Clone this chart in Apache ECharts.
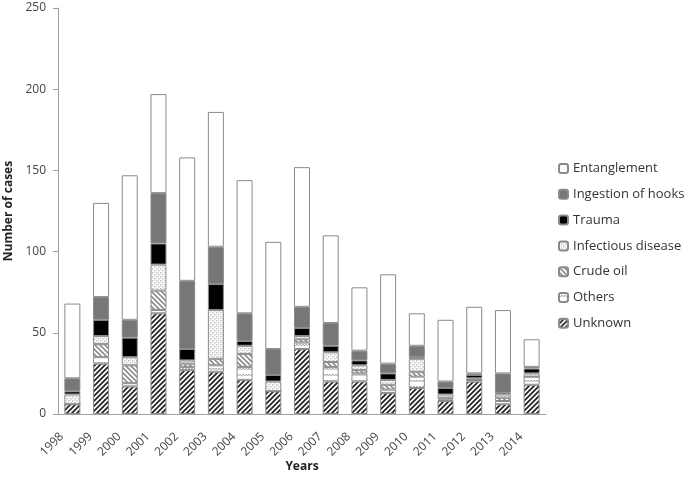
<!DOCTYPE html>
<html><head><meta charset="utf-8">
<script src="https://cdn.jsdelivr.net/npm/echarts@6/dist/echarts.min.js"></script>
<style>html,body{margin:0;padding:0;background:#fff}#c{width:697px;height:487px}</style>
</head><body><div id="c"></div>
<script>
const years = ['1998','1999','2000','2001','2002','2003','2004','2005','2006','2007','2008','2009','2010','2011','2012','2013','2014'];
const unknown      = [6,31,17,62,27,26,21,14,40,20,20,13,16,8,20,6,18];
const others       = [0,4,2,2,2,4,8,0,4,9,5,2,7,1,1,2,5];
const crudeOil     = [0,8,11,12,2,4,8,0,2,3,2,3,3,1,0,2,0];
const infectious   = [6,5,5,16,2,30,5,6,2,6,3,3,8,2,1,2,2];
const trauma       = [2,10,12,13,7,16,3,4,5,4,3,4,1,4,2,1,3];
const hooks        = [8,14,11,31,42,23,17,16,13,14,6,6,7,4,1,12,1];
const entanglement = [46,58,89,61,76,83,82,66,86,54,39,55,20,38,41,39,17];
const yMin = 0, yMax = 250, yStep = 50;

function tile(s, draw) {
  const c = document.createElement('canvas');
  c.width = s; c.height = s;
  const g = c.getContext('2d');
  g.fillStyle = '#fff'; g.fillRect(0, 0, s, s);
  draw(g, s);
  return { image: c, repeat: 'repeat' };
}
function diag(dir, color, w) {
  return tile(5, (g, s) => {
    g.strokeStyle = color; g.lineWidth = w;
    g.beginPath();
    if (dir > 0) {
      g.moveTo(-1, s + 1); g.lineTo(s + 1, -1);
      g.moveTo(-1, 1); g.lineTo(1, -1);
      g.moveTo(s - 1, s + 1); g.lineTo(s + 1, s - 1);
    } else {
      g.moveTo(-1, -1); g.lineTo(s + 1, s + 1);
      g.moveTo(s - 1, -1); g.lineTo(s + 1, 1);
      g.moveTo(-1, s - 1); g.lineTo(1, s + 1);
    }
    g.stroke();
  });
}
const pUnknown = diag(1, '#262626', 1.8);
const pCrude = diag(-1, '#8c8c8c', 1.6);
const pInfect = tile(4, (g, s) => {
  g.fillStyle = '#c4c4c4';
  g.fillRect(0, 0, 1.5, 1.5); g.fillRect(2, 2, 1.5, 1.5);
  g.fillStyle = '#e2e2e2';
  g.fillRect(2, 0, 1, 1); g.fillRect(0, 2, 1, 1);
});
const pOthers = tile(6, (g, s) => {
  g.strokeStyle = '#a8a8a8'; g.lineWidth = 1;
  g.beginPath();
  g.moveTo(0, 2); g.lineTo(1.5, 4); g.lineTo(3, 2); g.lineTo(4.5, 4); g.lineTo(6, 2);
  g.stroke();
});

const font = 'Open Sans';
const border = { borderColor: '#8a8a8a', borderWidth: 1 };
function mk(name, data, color) {
  return { name, type: 'bar', stack: 'total', data, barWidth: 16,
    itemStyle: Object.assign({ color }, border) };
}
const chart = echarts.init(document.getElementById('c'), null, { renderer: 'canvas' });
chart.setOption({
  animation: false,
  backgroundColor: '#fff',
  textStyle: { fontFamily: font },
  grid: { left: 58, right: 151, top: 8, bottom: 73, containLabel: false, outerBoundsMode: 'none' },
  legend: {
    orient: 'vertical', left: 553, top: 157,
    itemWidth: 9, itemHeight: 9, itemGap: 12.8,
    textStyle: { fontFamily: font, fontSize: 13, color: '#333' },
    data: ['Entanglement','Ingestion of hooks','Trauma','Infectious disease','Crude oil','Others','Unknown']
  },
  xAxis: {
    type: 'category', data: years,
    name: 'Years', nameLocation: 'middle', nameGap: 47, nameMoveOverlap: false,
    nameTextStyle: { fontFamily: font, fontWeight: 'bold', fontSize: 12, color: '#222' },
    axisLine: { lineStyle: { color: '#a0a0a0' } },
    axisTick: { show: false },
    axisLabel: { rotate: 45, interval: 0, margin: 10, padding: [0, 15, 0, 0], fontSize: 12, color: '#444', fontFamily: font }
  },
  yAxis: {
    type: 'value', min: yMin, max: yMax, interval: yStep,
    name: 'Number of cases', nameLocation: 'middle', nameGap: 42,
    nameTextStyle: { fontFamily: font, fontWeight: 'bold', fontSize: 12, color: '#222' },
    axisLine: { show: true, lineStyle: { color: '#a0a0a0' } },
    axisTick: { show: true, length: 5, lineStyle: { color: '#a0a0a0' } },
    splitLine: { show: false },
    axisLabel: { fontSize: 12, color: '#444', fontFamily: font, margin: 12 }
  },
  series: [
    mk('Unknown', unknown, pUnknown),
    mk('Others', others, pOthers),
    mk('Crude oil', crudeOil, pCrude),
    mk('Infectious disease', infectious, pInfect),
    mk('Trauma', trauma, '#000'),
    mk('Ingestion of hooks', hooks, '#777'),
    mk('Entanglement', entanglement, '#fff')
  ]
});
</script></body></html>
